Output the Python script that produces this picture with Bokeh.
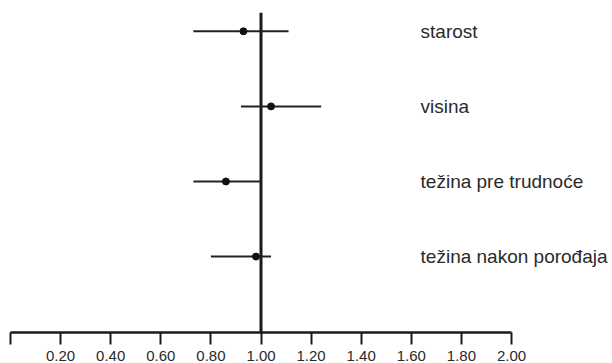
from bokeh.plotting import figure
from bokeh.models import Range1d, FixedTicker, ColumnDataSource
from bokeh.core.properties import value
from bokeh.embed import file_html
from bokeh.resources import INLINE

factors = ["starost", "visina", "težina pre trudnoće", "težina nakon porođaja"]
estimate = [0.93, 1.04, 0.86, 0.98]
lower = [0.73, 0.92, 0.73, 0.80]
upper = [1.11, 1.24, 1.00, 1.04]
row_pos = [4, 3, 2, 1]
null_value = 1.0
tick_values = [0.0, 0.2, 0.4, 0.6, 0.8, 1.0, 1.2, 1.4, 1.6, 1.8, 2.0]
tick_labels = ["", "0.20", "0.40", "0.60", "0.80", "1.00", "1.20", "1.40", "1.60", "1.80", "2.00"]

y_start, y_end = -0.011, 4.41
ref_top = 4.246
label_x = 1.637

p = figure(width=612, height=363, output_backend="svg", toolbar_location=None,
           x_range=Range1d(0, 602 / 250.5), y_range=Range1d(y_start, y_end),
           y_axis_type=None, min_border_left=10, min_border_right=0,
           min_border_top=0, min_border_bottom=0)
p.outline_line_color = None
p.xgrid.visible = False
p.ygrid.visible = False

src = ColumnDataSource(dict(f=factors, est=estimate, lo=lower, hi=upper, y=row_pos))

p.segment(x0=[null_value], x1=[null_value], y0=[y_start], y1=[ref_top],
          line_color="#1a1a1a", line_width=3)
p.segment(x0="lo", x1="hi", y0="y", y1="y", source=src,
          line_color="#222222", line_width=2)
p.scatter(x="est", y="y", source=src, size=7, fill_color="#111111", line_color="#111111")
p.text(x=label_x, y="y", text="f", source=src,
       text_font=value("Liberation Sans"), text_font_size="19px",
       text_baseline="middle", text_align="left", text_color="#2a2a2a")

ax = p.xaxis[0]
ax.ticker = FixedTicker(ticks=tick_values)
ax.major_label_overrides = {v: l for v, l in zip(tick_values, tick_labels)}
ax.bounds = (tick_values[0], tick_values[-1])
ax.axis_line_width = 2.5
ax.axis_line_color = "#1a1a1a"
ax.major_tick_line_width = 2
ax.major_tick_line_color = "#1a1a1a"
ax.major_tick_out = 12
ax.major_tick_in = 0
ax.minor_tick_line_color = None
ax.major_label_standoff = 6
ax.major_label_text_font = "Liberation Sans"
ax.major_label_text_font_size = "15px"
ax.major_label_text_color = "#2a2a2a"

open("out.html", "w").write(file_html(p, INLINE))
